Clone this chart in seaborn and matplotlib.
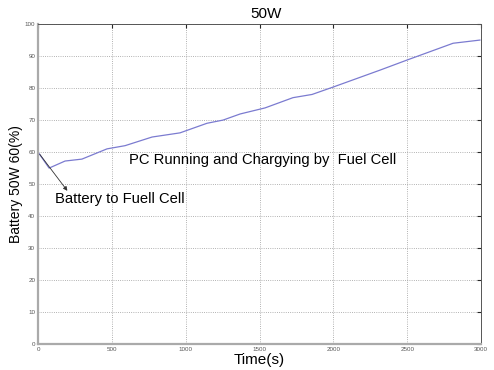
import numpy as np
import pandas as pd
import matplotlib
matplotlib.use("Agg")
import matplotlib.pyplot as plt
import seaborn as sns

# values
time_s = [0, 75, 183, 297, 467, 589, 772, 961, 1144, 1253, 1368, 1537,
          1726, 1855, 1997, 2315, 2498, 2810, 2993]
battery = [60, 55, 57.2, 57.8, 61, 62, 64.7, 66, 69, 70, 71.9, 73.8,
           77, 78, 80.3, 85.6, 88.75, 94, 95]
x_ticks = [0, 500, 1000, 1500, 2000, 2500, 3000]
y_ticks = list(range(0, 101, 10))

df = pd.DataFrame({"Time(s)": time_s, "Battery": battery})

sns.set_style("white")
plt.rcParams["font.family"] = ["Liberation Sans", "DejaVu Sans"]
plt.rcParams["text.color"] = "black"
plt.rcParams["axes.labelcolor"] = "black"

fig = plt.figure(figsize=(4.94, 3.70), dpi=100)
ax = fig.add_axes([0.077, 0.070, 0.897, 0.865])
sns.lineplot(data=df, x="Time(s)", y="Battery", ax=ax, color="#7b7bd0", lw=0.9)

ax.set_xlim(0, 3000)
ax.set_ylim(0, 100)
ax.set_xticks(x_ticks)
ax.set_yticks(y_ticks)
ax.tick_params(direction="in", length=3, labelsize=4.5, labelcolor="#555555",
               top=True, right=True, pad=2)
ax.grid(True, linestyle=":", color="#999999", lw=0.6)
for s in ["top", "right"]:
    ax.spines[s].set_color("#555555")
    ax.spines[s].set_linewidth(0.7)
for s in ["left", "bottom"]:
    ax.spines[s].set_color("#aaaaaa")
    ax.spines[s].set_linewidth(1.6)

ax.set_title("50W", fontsize=11, pad=4, x=0.515)
ax.set_xlabel("Time(s)", fontsize=11, labelpad=0.5)
ax.set_ylabel("Battery 50W 60(%)", fontsize=10, labelpad=1)

ax.annotate("", xy=(210, 47.2), xytext=(0, 60),
            arrowprops=dict(arrowstyle="-|>", color="#333333", lw=0.6,
                            mutation_scale=6))
ax.text(115, 45.3, "Battery to Fuell Cell", fontsize=10.6, va="center", ha="left")
ax.text(616, 57.5, "PC Running and Chargying by  Fuel Cell", fontsize=10.6,
        va="center", ha="left")

fig.savefig("out.png", dpi=100)
